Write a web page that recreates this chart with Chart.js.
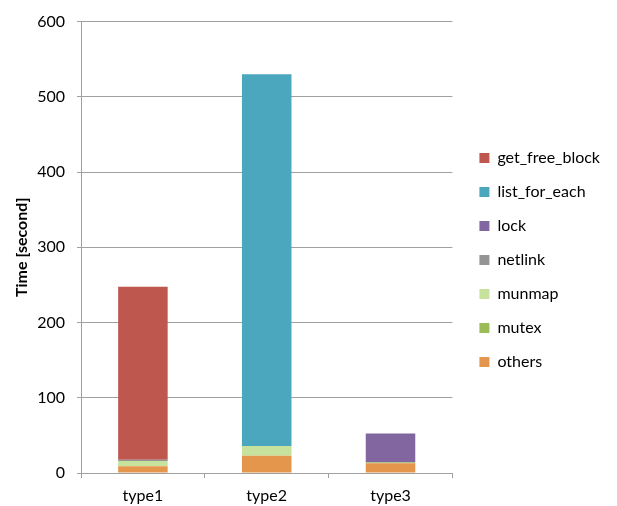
<!DOCTYPE html>
<html>
<head>
  <title>Time breakdown</title>
  <script src="https://cdn.jsdelivr.net/npm/chart.js"></script>
  <style>
    html, body { margin: 0; padding: 0; background: #fff; }
    #wrap { width: 617px; height: 506px; }
  </style>
  <script>
    // values (seconds)
    const categories = ['type1', 'type2', 'type3'];
    const others = [9, 23, 13];
    const mutex = [0, 0, 1];
    const munmap = [7, 13, 0];
    const netlink = [1.5, 0, 0.5];
    const lock = [0, 0, 38];
    const listForEach = [0, 494, 0];
    const getFreeBlock = [230, 0, 0];
    const yTicks = [0, 100, 200, 300, 400, 500, 600];

    const font = 'Lato';
    const gridColor = '#a0a0a0';

    window.onload = function() {
      const ctx = document.getElementById('myChart').getContext('2d');

      // stacked bottom to top; legend shown reversed
      const series = [
        { label: 'others', data: others, color: '#E4964C' },
        { label: 'mutex', data: mutex, color: '#9BBB59' },
        { label: 'munmap', data: munmap, color: '#C6E29D' },
        { label: 'netlink', data: netlink, color: '#949494' },
        { label: 'lock', data: lock, color: '#8166A0' },
        { label: 'list_for_each', data: listForEach, color: '#4BA7BE' },
        { label: 'get_free_block', data: getFreeBlock, color: '#BE574E' }
      ];

      // nudge the legend a bit away from the plot
      const legendShift = {
        id: 'legendShift',
        afterLayout(chart) {
          chart.legend.left += 9;
          chart.legend.right += 9;
        }
      };

      new Chart(ctx, {
        type: 'bar',
        data: {
          labels: categories,
          datasets: series.map(s => ({
            label: s.label,
            data: s.data,
            backgroundColor: s.color,
            borderWidth: 0,
            categoryPercentage: 1,
            barPercentage: 0.4
          }))
        },
        options: {
          responsive: false,
          animation: false,
          layout: { padding: { top: 14, right: 16, bottom: 0, left: 0 } },
          plugins: {
            tooltip: { enabled: false },
            legend: {
              position: 'right',
              reverse: true,
              labels: {
                boxWidth: 10,
                boxHeight: 10,
                padding: 18,
                color: '#000',
                font: { family: font, size: 16 }
              }
            }
          },
          scales: {
            x: {
              stacked: true,
              grid: {
                display: true,
                drawOnChartArea: false,
                tickLength: 5,
                color: gridColor
              },
              border: { color: gridColor },
              ticks: {
                color: '#000',
                padding: 8,
                font: { family: font, size: 16 }
              },
              afterFit(scale) { scale.height = 33; }
            },
            y: {
              stacked: true,
              min: 0,
              max: 600,
              afterBuildTicks(scale) {
                scale.ticks = yTicks.map(v => ({ value: v }));
              },
              grid: { color: gridColor, tickLength: 4 },
              border: { color: gridColor },
              ticks: {
                color: '#000',
                padding: 12,
                font: { family: font, size: 16 }
              },
              title: {
                display: true,
                text: 'Time [second]',
                color: '#000',
                padding: { top: 12, bottom: 0 },
                font: { family: font, size: 16, weight: 'bold' }
              },
              afterFit(scale) { scale.width = 81; }
            }
          }
        },
        plugins: [legendShift]
      });
    };
  </script>
</head>
<body>
<div id="wrap"><canvas id="myChart" width="617" height="506"></canvas></div>
</body>
</html>
